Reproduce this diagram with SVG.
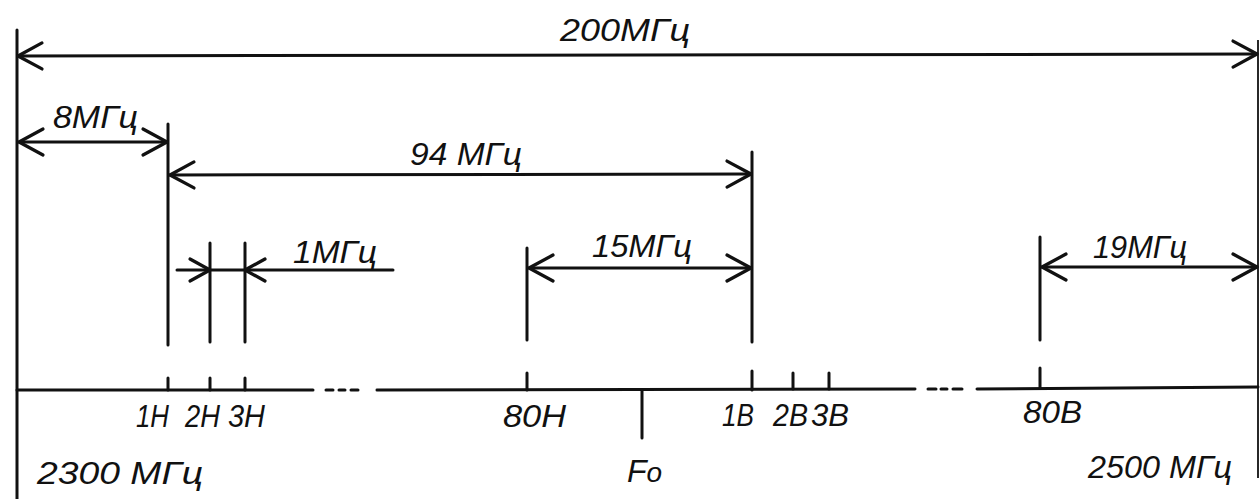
<svg xmlns="http://www.w3.org/2000/svg" width="1260" height="499" viewBox="0 0 1260 499">
<style>
.ln{stroke:#111;stroke-width:3;fill:none;stroke-linecap:round}
.thin{stroke:#111;stroke-width:1.8;fill:none}
.ah{stroke:#111;stroke-width:3.2;fill:none;stroke-linecap:round;stroke-linejoin:round}
text{font-family:"Liberation Sans","DejaVu Sans",sans-serif;font-style:italic;font-size:32px;fill:#111}
</style>
<defs>
<marker id="arr" markerUnits="userSpaceOnUse" markerWidth="40" markerHeight="40" refX="0" refY="0" viewBox="-30 -20 40 40" orient="auto-start-reverse" overflow="visible">
<path d="M-24,-13 L0,0 L-24,13" class="ah"/>
</marker>
</defs>
<rect width="1260" height="499" fill="#fff"/>
<g id="frame">
<line class="ln" x1="17" y1="30" x2="17" y2="499"/>
<line class="thin" x1="1258" y1="40" x2="1258" y2="478"/>
</g>
<g id="axis">
<line class="ln" x1="17" y1="390" x2="313" y2="390"/>
<line class="ln" x1="326" y1="390" x2="333" y2="390"/>
<line class="ln" x1="339" y1="390" x2="345" y2="390"/>
<line class="ln" x1="351" y1="390" x2="358" y2="390"/>
<line class="ln" x1="377" y1="390" x2="915" y2="389"/>
<line class="ln" x1="928" y1="389" x2="936" y2="389"/>
<line class="ln" x1="941" y1="389" x2="947" y2="389"/>
<line class="ln" x1="953" y1="389" x2="962" y2="389"/>
<line class="ln" x1="977" y1="389" x2="1258" y2="387"/>
</g>
<g id="markers">
<line class="ln" x1="168" y1="124" x2="168" y2="345"/>
<line class="ln" x1="210" y1="243" x2="210" y2="342"/>
<line class="ln" x1="245" y1="243" x2="245" y2="342"/>
<line class="ln" x1="527" y1="248" x2="527" y2="340"/>
<line class="ln" x1="752" y1="152" x2="752" y2="342"/>
<line class="ln" x1="1040" y1="237" x2="1040" y2="340"/>
<line class="ln" x1="168" y1="378" x2="168" y2="390"/>
<line class="ln" x1="210" y1="378" x2="210" y2="390"/>
<line class="ln" x1="245" y1="378" x2="245" y2="390"/>
<line class="ln" x1="527" y1="373" x2="527" y2="390"/>
<line class="ln" x1="752" y1="371" x2="752" y2="390"/>
<line class="ln" x1="793" y1="373" x2="793" y2="389"/>
<line class="ln" x1="829" y1="373" x2="829" y2="389"/>
<line class="ln" x1="1040" y1="368" x2="1040" y2="388"/>
<line class="ln" x1="642" y1="390" x2="642" y2="438"/>
</g>
<g id="connectors">
<line class="ln" x1="18" y1="56" x2="1257" y2="54" marker-start="url(#arr)" marker-end="url(#arr)"/>
<line class="ln" x1="19" y1="142" x2="167" y2="142" marker-start="url(#arr)" marker-end="url(#arr)"/>
<line class="ln" x1="170" y1="175" x2="751" y2="174" marker-start="url(#arr)" marker-end="url(#arr)"/>
<line class="ln" x1="529" y1="268" x2="751" y2="268" marker-start="url(#arr)" marker-end="url(#arr)"/>
<line class="ln" x1="1042" y1="267" x2="1257" y2="267" marker-start="url(#arr)" marker-end="url(#arr)"/>
<line class="ln" x1="177" y1="270" x2="393" y2="270"/>
<path class="ah" d="M190,259 L210,270 L190,281"/>
<path class="ah" d="M265,259 L245,270 L265,281"/>
</g>
<g id="labels">
<text x="560" y="41" textLength="130" lengthAdjust="spacingAndGlyphs">200МГц</text>
<text x="53" y="128" textLength="85" lengthAdjust="spacingAndGlyphs">8МГц</text>
<text x="410" y="165" textLength="112" lengthAdjust="spacingAndGlyphs">94 МГц</text>
<text x="293" y="263" textLength="84" lengthAdjust="spacingAndGlyphs">1МГц</text>
<text x="592" y="257" textLength="100" lengthAdjust="spacingAndGlyphs">15МГц</text>
<text x="1093" y="258" textLength="94" lengthAdjust="spacingAndGlyphs">19МГц</text>
<text x="136" y="427" textLength="33" lengthAdjust="spacingAndGlyphs">1H</text>
<text x="185" y="427" textLength="35" lengthAdjust="spacingAndGlyphs">2H</text>
<text x="228" y="427" textLength="37" lengthAdjust="spacingAndGlyphs">3H</text>
<text x="503" y="427" textLength="63" lengthAdjust="spacingAndGlyphs">80H</text>
<text x="722" y="426" textLength="32" lengthAdjust="spacingAndGlyphs">1B</text>
<text x="773" y="426" textLength="35" lengthAdjust="spacingAndGlyphs">2B</text>
<text x="811" y="426" textLength="38" lengthAdjust="spacingAndGlyphs">3B</text>
<text x="1023" y="423" textLength="59" lengthAdjust="spacingAndGlyphs">80B</text>
<text x="37" y="484" textLength="166" lengthAdjust="spacingAndGlyphs">2300 МГц</text>
<text x="1088" y="478" textLength="144" lengthAdjust="spacingAndGlyphs">2500 МГц</text>
<text x="627" y="482">F<tspan font-size="28">o</tspan></text>
</g>
</svg>
